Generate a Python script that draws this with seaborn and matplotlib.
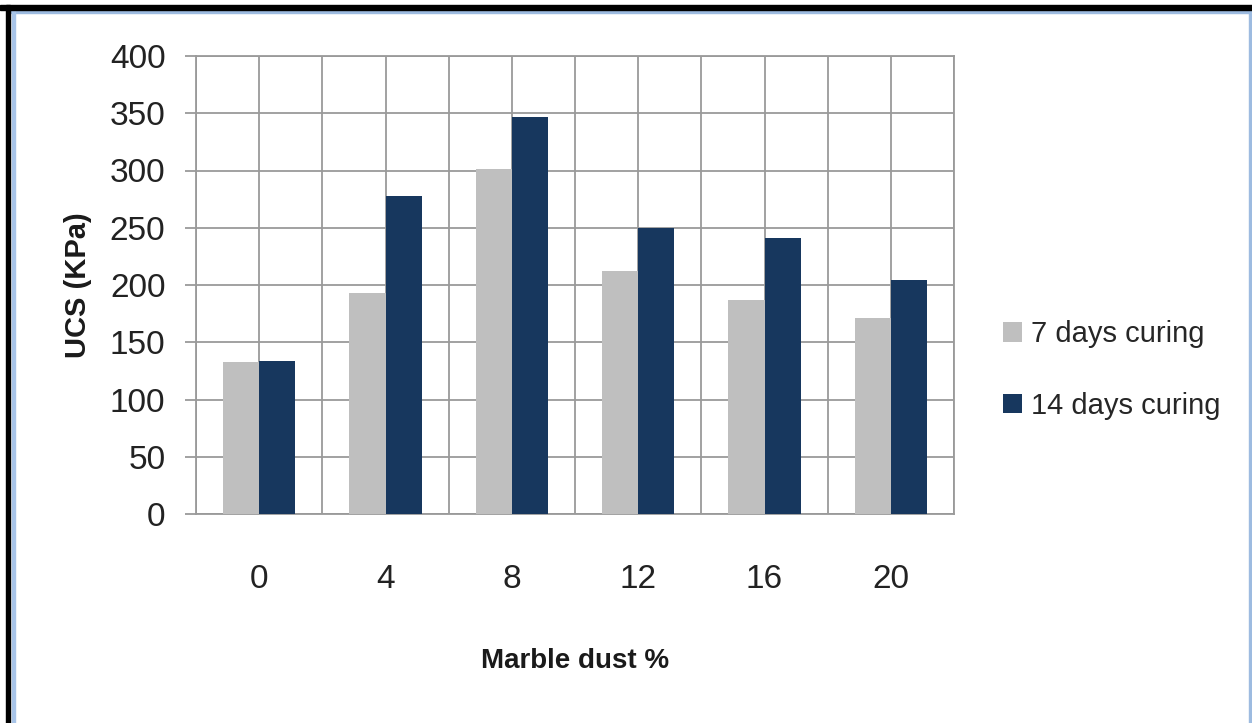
import matplotlib
matplotlib.use("Agg")
import matplotlib.pyplot as plt
from matplotlib.patches import Rectangle
from matplotlib.ticker import FixedLocator
import pandas as pd
import seaborn as sns

# Unconfined compressive strength of soil stabilised with marble dust
marble_dust = ["0", "4", "8", "12", "16", "20"]
ucs_7_days = [133, 193, 301, 212, 187, 171]
ucs_14_days = [134, 278, 347, 250, 241, 204]
series_names = ["7 days curing", "14 days curing"]
y_ticks = [0, 50, 100, 150, 200, 250, 300, 350, 400]

df = pd.DataFrame({
    "dust": marble_dust * 2,
    "ucs": ucs_7_days + ucs_14_days,
    "curing": [series_names[0]] * len(marble_dust) + [series_names[1]] * len(marble_dust),
})

sns.set_theme(style="white")
plt.rcParams["font.family"] = ["Liberation Sans Narrow", "Liberation Sans", "DejaVu Sans"]

fig = plt.figure(figsize=(12.52, 7.23), dpi=100)
ax = fig.add_axes([196 / 1252, 1 - 514 / 723, (954 - 196) / 1252, (514 - 56) / 723])

grid_color = "#9a9a9a"
sns.barplot(
    data=df, x="dust", y="ucs", hue="curing", order=marble_dust,
    hue_order=series_names, palette=["#bfbfbf", "#17375e"],
    width=0.57, saturation=1, ax=ax, zorder=3, linewidth=0,
)

ax.set_xlim(-0.5, len(marble_dust) - 0.5)
ax.set_ylim(0, 400)
ax.set_yticks(y_ticks)
ax.xaxis.set_minor_locator(FixedLocator([i - 0.5 for i in range(len(marble_dust) + 1)]))
ax.grid(True, which="both", axis="x", color=grid_color, linewidth=1.3, zorder=0)
ax.grid(True, which="major", axis="y", color=grid_color, linewidth=1.3, zorder=0)
ax.set_axisbelow(True)

for side in ["left", "right", "top", "bottom"]:
    ax.spines[side].set_color(grid_color)
    ax.spines[side].set_linewidth(1.3)

ax.tick_params(axis="y", which="major", direction="out", length=8, width=1.3,
               color=grid_color, pad=14, labelsize=24, labelcolor="#222222", left=True)
ax.tick_params(axis="x", which="both", length=0, pad=36, labelsize=24, labelcolor="#222222")

ax.set_xlabel("Marble dust %", fontsize=20, fontweight="bold", labelpad=38, color="#1a1a1a")
ax.set_ylabel("UCS (KPa)", fontsize=21, fontweight="bold", labelpad=13, color="#1a1a1a")

handles, labels = ax.get_legend_handles_labels()
if ax.get_legend() is not None:
    ax.get_legend().remove()
fig.legend(handles, labels, loc="center left", bbox_to_anchor=(977 / 1252, 1 - 370 / 723),
           frameon=False, fontsize=21, handlelength=0.65, handleheight=0.65,
           handletextpad=0.3, labelspacing=1.5)

# page frame around the chart
fig.add_artist(Rectangle((0, 1 - 10 / 723), 1, 5 / 723, transform=fig.transFigure,
                         color="black", zorder=10))
fig.add_artist(Rectangle((6 / 1252, 0), 4 / 1252, 1 - 5 / 723, transform=fig.transFigure,
                         color="black", zorder=10))
fig.add_artist(Rectangle((11 / 1252, 1 - 13 / 723), 1, 3 / 723, transform=fig.transFigure,
                         color="#9dbbe0", zorder=9))
fig.add_artist(Rectangle((11.5 / 1252, 0), 3.5 / 1252, 1 - 10 / 723, transform=fig.transFigure,
                         color="#a8c4e8", zorder=9))
fig.add_artist(Rectangle((1249 / 1252, 0), 3 / 1252, 1 - 12 / 723, transform=fig.transFigure,
                         color="#9dbbe0", zorder=9))

fig.savefig("out.png", dpi=100)
